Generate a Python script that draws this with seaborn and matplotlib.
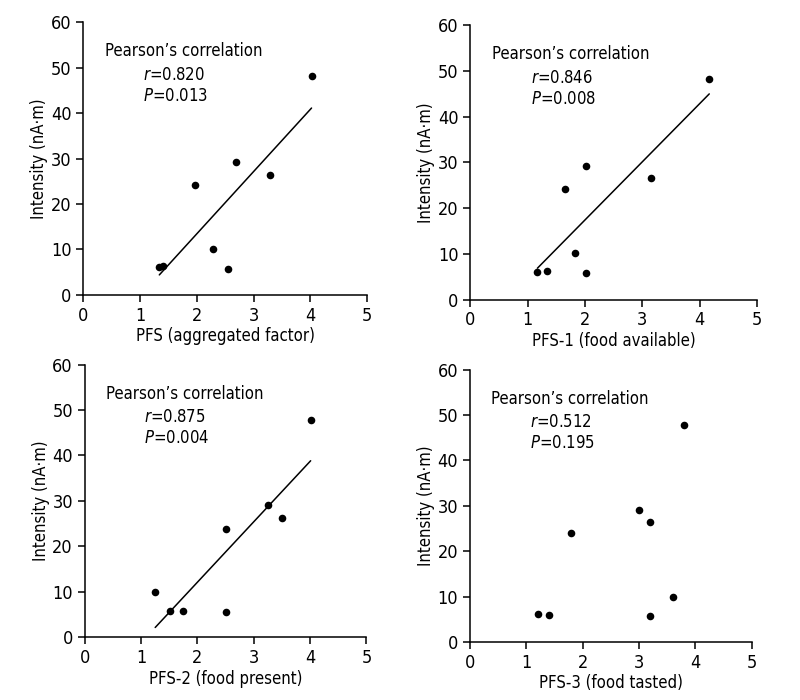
import numpy as np
import matplotlib
matplotlib.use("Agg")
import matplotlib.pyplot as plt
import seaborn as sns

# intensity per subject (same 8 subjects in every panel)
pfs_x = [1.34, 1.41, 1.96, 2.28, 2.55, 2.69, 3.29, 4.02]
pfs_y = [6.0, 6.3, 24.1, 10.1, 5.6, 29.2, 26.4, 48.2]

pfs1_x = [1.17, 1.33, 1.66, 1.83, 2.01, 2.01, 3.16, 4.17]
pfs1_y = [6.0, 6.3, 24.2, 10.1, 29.2, 5.8, 26.5, 48.2]

pfs2_x = [1.25, 1.51, 1.75, 2.51, 2.51, 3.26, 3.51, 4.01]
pfs2_y = [9.9, 5.8, 5.8, 23.9, 5.4, 29.0, 26.3, 47.9]

pfs3_x = [1.2, 1.4, 1.8, 3.0, 3.2, 3.2, 3.6, 3.8]
pfs3_y = [6.1, 5.9, 23.9, 29.0, 26.5, 5.7, 9.9, 47.9]

xlabels = ["PFS (aggregated factor)", "PFS-1 (food available)",
           "PFS-2 (food present)", "PFS-3 (food tasted)"]
r_vals = ["0.820", "0.846", "0.875", "0.512"]
p_vals = ["0.013", "0.008", "0.004", "0.195"]
show_fit = [True, True, True, False]

sns.set_style("ticks")
plt.rcParams["font.family"] = ["DejaVu Sans"]
plt.rcParams["font.stretch"] = "condensed"
plt.rcParams["text.color"] = "black"
plt.rcParams["axes.labelcolor"] = "black"
plt.rcParams["mathtext.fontset"] = "custom"
plt.rcParams["mathtext.it"] = "DejaVu Sans:italic:stretch=condensed"
plt.rcParams["mathtext.rm"] = "DejaVu Sans:stretch=condensed"

fig = plt.figure(figsize=(8, 7), dpi=100)
# axes positions (fig fraction)
positions = [[0.104, 0.579, 0.355, 0.389],
             [0.588, 0.572, 0.358, 0.392],
             [0.106, 0.090, 0.352, 0.389],
             [0.5875, 0.083, 0.352, 0.389]]

data = [(pfs_x, pfs_y), (pfs1_x, pfs1_y), (pfs2_x, pfs2_y), (pfs3_x, pfs3_y)]

for i in range(4):
    ax = fig.add_axes(positions[i])
    xs, ys = data[i]
    if show_fit[i]:
        sns.regplot(x=np.array(xs), y=np.array(ys), ax=ax, ci=None, color="black",
                    scatter_kws={"s": 30, "linewidths": 0, "zorder": 3, "alpha": 1},
                    line_kws={"lw": 1.1})
    else:
        sns.scatterplot(x=xs, y=ys, ax=ax, color="black", s=30, linewidth=0)
    ax.set_xlim(0, 5)
    ax.set_ylim(0, 60)
    ax.set_xticks([0, 1, 2, 3, 4, 5])
    ax.set_yticks([0, 10, 20, 30, 40, 50, 60])
    sns.despine(ax=ax)
    for s in ["left", "bottom"]:
        ax.spines[s].set_linewidth(1.1)
        ax.spines[s].set_color("black")
    ax.tick_params(labelsize=13, length=5, width=1.1, colors="black")
    ax.set_xlabel(xlabels[i], fontsize=12, labelpad=2)
    ax.set_ylabel("Intensity (nA·m)", fontsize=12, labelpad=2)

    ax.text(0.38, 53.6, "Pearson’s correlation", fontsize=12, va="center")
    ax.text(1.06, 48.5, r"$\mathit{r}$=" + r_vals[i], fontsize=12, va="center")
    ax.text(1.06, 43.8, r"$\mathit{P}$=" + p_vals[i], fontsize=12, va="center")

fig.savefig("out.png", dpi=100, facecolor="white")
